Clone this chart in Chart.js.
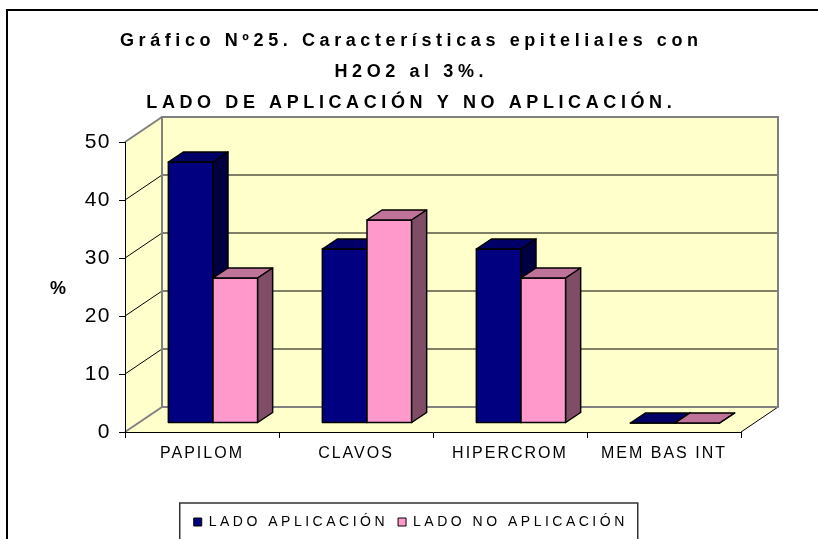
<!DOCTYPE html>
<html>
<head>
<meta charset="utf-8">
<title>Gráfico Nº25</title>
<script src="https://cdn.jsdelivr.net/npm/chart.js@4.4.1/dist/chart.umd.min.js"></script>
<style>
  body { margin: 0; background: #fff; }
  canvas { display: block; }
</style>
</head>
<body>
<canvas id="grafico" width="818" height="539"></canvas>
<script>
var categorias = ["PAPILOM", "CLAVOS", "HIPERCROM", "MEM BAS INT"];
var ladoAplicacion = [45, 30, 30, 0];
var ladoNoAplicacion = [25, 35, 25, 0];
var escalaY = [0, 10, 20, 30, 40, 50];
var titulo = [
  "Gráfico Nº25. Características epiteliales con",
  "H2O2 al 3%.",
  "LADO DE APLICACIÓN Y NO APLICACIÓN."
];

var FUENTE = "'Liberation Sans', Arial, sans-serif";

// depth of the walls and of the bars for the 3D look
var FONDO = { dx: 37, dy: -25 };
var BARRA = { dx: 11, dy: -9, ddx: 15, ddy: -10 };

var paletas = [
  { frente: "#000080", arriba: "#000066", lado: "#000040" },
  { frente: "#FF99CC", arriba: "#C07399", lado: "#804D66" }
];

function poly(ctx, pts) {
  ctx.beginPath();
  ctx.moveTo(pts[0][0], pts[0][1]);
  for (var i = 1; i < pts.length; i++) ctx.lineTo(pts[i][0], pts[i][1]);
  ctx.closePath();
}

function linea(ctx, x0, y0, x1, y1) {
  ctx.beginPath();
  ctx.moveTo(x0, y0);
  ctx.lineTo(x1, y1);
  ctx.stroke();
}

// wraps a box's methods so its text is letter-spaced; centrar moves
// the drawing so it is centred on the whole canvas, not on the box
function espaciar(chart, box, spacing, metodos, centrar) {
  if (!box || box._espaciado) return;
  box._espaciado = true;
  box._desplazamiento = 0;
  metodos.forEach(function (m) {
    var orig = box[m];
    box[m] = function () {
      var ctx = chart.ctx;
      ctx.save();
      ctx.letterSpacing = spacing + "px";
      if (m === "draw" && centrar) {
        box._desplazamiento = chart.width / 2 - (box.left + box.right) / 2 + spacing / 2;
        ctx.translate(box._desplazamiento, 0);
      }
      var out = orig.apply(box, arguments);
      ctx.restore();
      return out;
    };
  });
}

var espaciado = {
  id: "espaciado",
  beforeLayout: function (chart) {
    espaciar(chart, chart.titleBlock, 4.6, ["draw"], true);
    espaciar(chart, chart.legend, 3.5, ["fit", "draw"], true);
    espaciar(chart, chart.scales.x, 2, ["drawLabels"], false);
    espaciar(chart, chart.scales.y, 1.5, ["drawLabels"], false);
  }
};

// back wall, side wall and floor
var paredes = {
  id: "paredes",
  beforeDraw: function (chart) {
    var ctx = chart.ctx, y = chart.scales.y, a = chart.chartArea;
    var l = a.left, r = a.right;
    var t = y.getPixelForValue(escalaY[escalaY.length - 1]);
    var b = y.getPixelForValue(escalaY[0]);
    var dx = FONDO.dx, dy = FONDO.dy;
    ctx.save();
    ctx.fillStyle = "#FFFFCC";
    poly(ctx, [[l + dx, t + dy], [r + dx, t + dy], [r + dx, b + dy], [l + dx, b + dy]]);
    ctx.fill();
    poly(ctx, [[l, t], [l + dx, t + dy], [l + dx, b + dy], [l, b]]);
    ctx.fill();
    poly(ctx, [[l, b], [l + dx, b + dy], [r + dx, b + dy], [r, b]]);
    ctx.fill();

    ctx.strokeStyle = "#000";
    ctx.lineWidth = 1;
    escalaY.slice(1, -1).forEach(function (v) {
      var py = y.getPixelForValue(v);
      linea(ctx, l, py, l + dx, py + dy);
      linea(ctx, l + dx, py + dy, r + dx, py + dy);
    });
    linea(ctx, r, b, r + dx, b + dy);

    ctx.strokeStyle = "#808080";
    ctx.lineWidth = 2;
    ctx.strokeRect(l + dx, t + dy, r - l, b - t);
    linea(ctx, l, t, l + dx, t + dy);
    linea(ctx, l, b, l + dx, b + dy);
    ctx.restore();
  }
};

function caja(ctx, x0, x1, top, bot, c) {
  var dx = BARRA.ddx, dy = BARRA.ddy;
  ctx.fillStyle = c.frente;
  poly(ctx, [[x0, top], [x1, top], [x1, bot], [x0, bot]]);
  ctx.fill(); ctx.stroke();
  ctx.fillStyle = c.arriba;
  poly(ctx, [[x0, top], [x0 + dx, top + dy], [x1 + dx, top + dy], [x1, top]]);
  ctx.fill(); ctx.stroke();
  ctx.fillStyle = c.lado;
  poly(ctx, [[x1, top], [x1 + dx, top + dy], [x1 + dx, bot + dy], [x1, bot]]);
  ctx.fill(); ctx.stroke();
}

// bars as boxes, drawn from the bar elements Chart.js lays out
var barras3d = {
  id: "barras3d",
  beforeDatasetDraw: function () { return false; },
  afterDatasetsDraw: function (chart) {
    var ctx = chart.ctx;
    ctx.save();
    ctx.strokeStyle = "#000";
    ctx.lineWidth = 1.5;
    ctx.lineJoin = "round";
    for (var j = 0; j < categorias.length; j++) {
      for (var i = 0; i < chart.data.datasets.length; i++) {
        var p = chart.getDatasetMeta(i).data[j].getProps(["x", "y", "base", "width"], true);
        caja(ctx,
          p.x - p.width / 2 + BARRA.dx, p.x + p.width / 2 + BARRA.dx,
          p.y + BARRA.dy, p.base + BARRA.dy, paletas[i]);
      }
    }
    ctx.restore();
  }
};

// outer frame, legend frame and the "%" axis title
var marcos = {
  id: "marcos",
  afterDraw: function (chart) {
    var ctx = chart.ctx;
    ctx.save();
    ctx.strokeStyle = "#000";
    ctx.lineWidth = 2;
    ctx.strokeRect(7, 10, 900, 700);

    var lg = chart.legend, hb = lg.legendHitBoxes;
    if (hb && hb.length) {
      var last = hb[hb.length - 1];
      var left = hb[0].left - 14 + lg._desplazamiento;
      var right = last.left + last.width + 10 + lg._desplazamiento;
      ctx.strokeStyle = "#333";
      ctx.lineWidth = 1.5;
      ctx.strokeRect(left, hb[0].top - 12, right - left, 100);
    }

    ctx.fillStyle = "#000";
    ctx.font = "bold 18px " + FUENTE;
    ctx.textAlign = "center";
    ctx.textBaseline = "middle";
    ctx.fillText("%", 58, 289);
    ctx.restore();
  }
};

new Chart(document.getElementById("grafico"), {
  type: "bar",
  data: {
    labels: categorias,
    datasets: [
      { label: "LADO APLICACIÓN", data: ladoAplicacion,
        backgroundColor: paletas[0].frente, borderColor: "#000", borderWidth: 1 },
      { label: "LADO NO APLICACIÓN", data: ladoNoAplicacion,
        backgroundColor: paletas[1].frente, borderColor: "#000", borderWidth: 1 }
    ]
  },
  options: {
    responsive: false,
    animation: false,
    events: [],
    devicePixelRatio: 1,
    categoryPercentage: 0.58,
    barPercentage: 1,
    layout: { padding: { left: 0, right: 77, top: 0, bottom: 0 } },
    plugins: {
      title: {
        display: true,
        text: titulo,
        color: "#000",
        font: { family: FUENTE, size: 18, weight: "bold", lineHeight: "31px" },
        padding: { top: 26, bottom: 23 }
      },
      legend: {
        position: "bottom",
        labels: {
          color: "#000",
          font: { family: FUENTE, size: 14 },
          boxWidth: 8,
          boxHeight: 8,
          padding: 10
        }
      },
      tooltip: { enabled: false }
    },
    scales: {
      x: {
        afterFit: function (s) { s.height = 73; },
        grid: { drawOnChartArea: false, tickLength: 6, color: "#000", offset: true },
        border: { color: "#000", width: 1 },
        ticks: { color: "#000", font: { family: FUENTE, size: 16 }, padding: 6, maxRotation: 0, autoSkip: false }
      },
      y: {
        min: escalaY[0],
        max: escalaY[escalaY.length - 1],
        afterBuildTicks: function (s) {
          s.ticks = escalaY.map(function (v) { return { value: v }; });
        },
        afterFit: function (s) { s.width = 125; },
        grid: { drawOnChartArea: false, tickLength: 6, color: "#000" },
        border: { color: "#000", width: 1 },
        ticks: { color: "#000", font: { family: FUENTE, size: 21 }, padding: 8 }
      }
    }
  },
  plugins: [espaciado, paredes, barras3d, marcos]
});
</script>
</body>
</html>
